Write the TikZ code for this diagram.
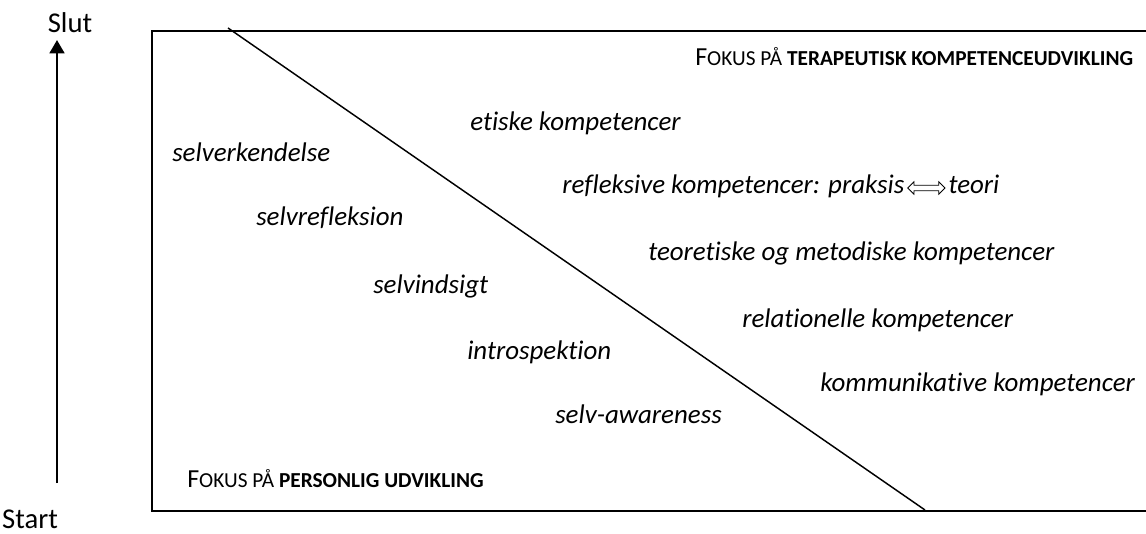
\documentclass[tikz,border=0pt]{standalone}
\usepackage{fontspec}
\setmainfont{Carlito}[Ligatures=NoCommon]
\usepackage{tikz}
\usetikzlibrary{arrows.meta,positioning,shapes.arrows}
\newcommand{\kapit}[1]{{\fontsize{16}{19}\selectfont #1}}

\begin{document}
\begin{tikzpicture}[x=0.75pt,y=-0.75pt,
  tekst/.style={anchor=base west, inner sep=0pt, font=\fontsize{20.2}{24}\selectfont\itshape},
  fokus/.style={anchor=base west, inner sep=0pt, font=\fontsize{19.5}{23}\selectfont},
  akse/.style={anchor=base, inner sep=0pt, font=\fontsize{21.5}{25}\selectfont},
  dobbeltpil/.style={double arrow, draw, fill=white, line width=0.6pt, inner sep=1.8pt,
    minimum height=28pt, double arrow head extend=2.6pt}]
\useasboundingbox (0,0) rectangle (1146,534);
\draw[line width=1.5pt] (1146,31) -- (152,31) -- (152,511) -- (1146,511);
\coordinate (top) at (228,28);
\coordinate (bund) at (925,510);
\draw[line width=1.1pt] (top) -- (bund);
\node[akse] (slut) at (70,33) {Slut};
\node[akse] (start) at (30,528) {Start};
\coordinate (pilfod) at (57,483);
\coordinate (pilspids) at (57,40);
\draw[line width=2pt, -{Triangle[width=11pt,length=10pt]}] (pilfod) -- (pilspids);
\node[fokus] (terapeutisk) at (695,66) {F\kapit{OKUS PÅ \textbf{TERAPEUTISK KOMPETENCEUDVIKLING}}};
\node[fokus] (personlig) at (187,488) {F\kapit{OKUS PÅ \textbf{PERSONLIG UDVIKLING}}};
\node[tekst] (etiske) at (470,131) {etiske kompetencer};
\node[tekst] (selverk) at (172,162) {selverkendelse};
\node[tekst] (refleksive) at (562,194) {refleksive kompetencer: praksis};
\node[dobbeltpil, anchor=west] (praksisteori) at ([xshift=2pt,yshift=4.5pt]refleksive.base east) {};
\node[tekst] (teori) at ([xshift=2pt]praksisteori.east |- refleksive.base) {teori};
\node[tekst] (selvrefl) at (256,226) {selvrefleksion};
\node[tekst] (teoretiske) at (648,261) {teoretiske og metodiske kompetencer};
\node[tekst] (selvind) at (373,294) {selvindsigt};
\node[tekst] (relationelle) at (742,328) {relationelle kompetencer};
\node[tekst] (intro) at (467,360) {introspektion};
\node[tekst] (kommunikative) at (820,392) {kommunikative kompetencer};
\node[tekst] (awareness) at (555,424) {selv-awareness};
\end{tikzpicture}
\end{document}
